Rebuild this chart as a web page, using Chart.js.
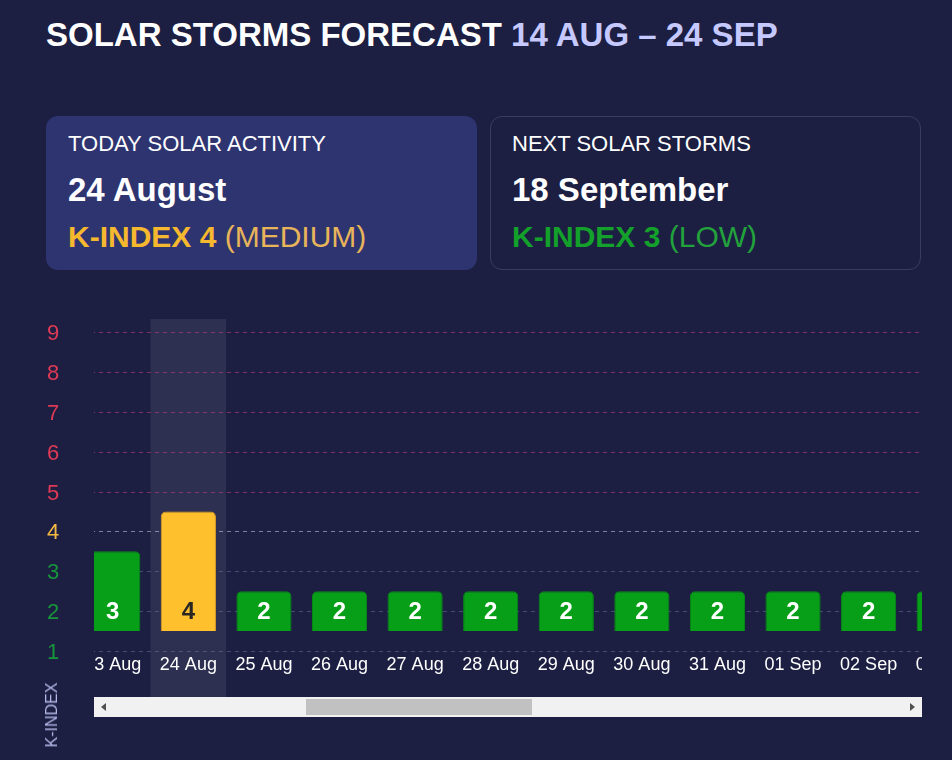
<!DOCTYPE html>
<html>
<head>
<meta charset="utf-8">
<script src="https://cdn.jsdelivr.net/npm/chart.js@4"></script>
<style>
  body { margin: 0; background: #1c1f42; font-family: 'Liberation Sans', Arial, sans-serif; width: 952px; height: 760px; overflow: hidden; position: relative; }
  .title { position: absolute; left: 46px; top: 18px; font-size: 33px; font-weight: bold; color: #fff; line-height: 1; white-space: nowrap; }
  .title span { color: #c5c9ff; }
  .card { position: absolute; top: 116px; width: 431px; height: 154px; border-radius: 12px; box-sizing: border-box; }
  .card.today { left: 46px; background: #2e3470; }
  .card.next { left: 490px; border: 1px solid rgba(255,255,255,0.13); }
  .card .lbl { position: absolute; left: 22px; top: 15px; font-size: 22px; color: #fff; white-space: nowrap; }
  .card .date { position: absolute; left: 22px; top: 55px; font-size: 33px; font-weight: bold; color: #fff; white-space: nowrap; }
  .card .k { position: absolute; left: 22px; top: 104px; font-size: 30px; white-space: nowrap; }
  .next .lbl, .next .date, .next .k { left: 21px; top: 14px; }
  .next .date { top: 54px; }
  .next .k { top: 103px; }
  .k b { font-weight: bold; }
  .k.med b { color: #f5b82e; }
  .k.med span { color: #e8b45a; }
  .k.low b { color: #13a02b; }
  .k.low span { color: #22a13c; }
  #yWrap { position: absolute; left: 0; top: 321px; width: 94px; height: 378px; }
  #plotWrap { position: absolute; left: 94px; top: 319px; width: 828px; height: 378px; overflow: hidden; }
  #plotCanvas { position: absolute; left: -19px; top: 0; }
  .scroll { position: absolute; left: 94px; top: 697px; width: 828px; height: 20px; background: #f1f1f1; }
  .thumb { position: absolute; left: 212px; top: 2px; width: 226px; height: 16px; background: #c1c1c1; }
  .arrL { position: absolute; left: 7px; top: 6px; width: 0; height: 0; border-top: 4px solid transparent; border-bottom: 4px solid transparent; border-right: 5px solid #505050; }
  .arrR { position: absolute; right: 7px; top: 6px; width: 0; height: 0; border-top: 4px solid transparent; border-bottom: 4px solid transparent; border-left: 5px solid #505050; }
  .ytitle { position: absolute; left: 52px; top: 715px; font-size: 16px; color: #b4b8e8; transform: translate(-50%, -50%) rotate(-90deg); white-space: nowrap; }
</style>
</head>
<body>
<div class="title">SOLAR STORMS FORECAST <span>14 AUG – 24 SEP</span></div>

<div class="card today">
  <div class="lbl">TODAY SOLAR ACTIVITY</div>
  <div class="date">24 August</div>
  <div class="k med"><b>K-INDEX 4</b> <span>(MEDIUM)</span></div>
</div>
<div class="card next">
  <div class="lbl">NEXT SOLAR STORMS</div>
  <div class="date">18 September</div>
  <div class="k low"><b>K-INDEX 3</b> <span>(LOW)</span></div>
</div>

<div id="yWrap"><canvas id="yCanvas" width="94" height="378"></canvas></div>
<div id="plotWrap"><canvas id="plotCanvas" width="907" height="378"></canvas></div>
<div class="scroll"><div class="arrL"></div><div class="thumb"></div><div class="arrR"></div></div>
<div class="ytitle">K-INDEX</div>

<script>
// days visible in the scrolled window
const days = ['23 Aug', '24 Aug', '25 Aug', '26 Aug', '27 Aug', '28 Aug', '29 Aug', '30 Aug', '31 Aug', '01 Sep', '02 Sep', '03 Sep'];
const kIndex = [3, 4, 2, 2, 2, 2, 2, 2, 2, 2, 2, 2];
const todayIndex = 1;
const yTicks = [1, 2, 3, 4, 5, 6, 7, 8, 9];

const levelColor = (v) => v >= 5 ? '#de3a55' : v == 4 ? '#f5b945' : '#17953a';
const barColor = (v) => v >= 5 ? '#de3a55' : v == 4 ? '#ffc02e' : '#079f17';
const barEdge = (v) => v >= 5 ? '#b82a42' : v == 4 ? '#e3a022' : '#068c14';
const gridColor = (v) => v >= 5 ? 'rgba(190,60,125,0.6)' : v == 4 ? 'rgba(225,225,235,0.5)' : 'rgba(125,135,190,0.42)';

Chart.defaults.font.family = "'Liberation Sans', Arial, sans-serif";
Chart.defaults.animation = false;

const fixHeight = (s) => { s.height = 46; };

const todayBand = {
    id: 'todayBand',
    beforeDraw(chart) {
        const x = chart.scales.x;
        const w = x.width / days.length;
        const cx = x.getPixelForValue(todayIndex);
        const c = chart.ctx;
        c.save();
        c.fillStyle = 'rgba(255,255,255,0.08)';
        c.fillRect(cx - w / 2, 0, w, chart.height);
        c.restore();
    }
};

// dashed level lines, coloured by k-index band
const levelLines = {
    id: 'levelLines',
    beforeDatasetsDraw(chart) {
        const y = chart.scales.y;
        const area = chart.chartArea;
        const c = chart.ctx;
        c.save();
        c.lineWidth = 1;
        c.setLineDash([4, 4]);
        yTicks.forEach(v => {
            const py = Math.round(y.getPixelForValue(v)) + 0.5;
            c.strokeStyle = gridColor(v);
            c.beginPath();
            c.moveTo(area.left, py);
            c.lineTo(area.right, py);
            c.stroke();
        });
        c.restore();
    }
};

const barLabels = {
    id: 'barLabels',
    afterDatasetsDraw(chart) {
        const c = chart.ctx;
        const meta = chart.getDatasetMeta(0);
        const y = chart.scales.y.getPixelForValue(2);
        c.save();
        c.font = "bold 24px 'Liberation Sans', Arial, sans-serif";
        c.textAlign = 'center';
        c.textBaseline = 'middle';
        meta.data.forEach((bar, i) => {
            c.fillStyle = kIndex[i] == 4 ? '#2a2622' : '#ffffff';
            c.fillText(String(kIndex[i]), bar.x, y + 1);
        });
        c.restore();
    }
};

// left, fixed y axis
new Chart(document.getElementById('yCanvas'), {
    type: 'bar',
    data: { labels: days, datasets: [{ data: [] }] },
    options: {
        responsive: false,
        layout: { padding: { left: 47, top: 13, right: 0, bottom: 0 } },
        plugins: { legend: { display: false }, tooltip: { enabled: false } },
        scales: {
            x: { ticks: { display: false }, grid: { display: false }, border: { display: false }, afterFit: fixHeight },
            y: {
                min: 1, max: 9,
                afterBuildTicks: (s) => { s.ticks = yTicks.map(v => ({ value: v })); },
                grid: { display: false, drawTicks: false },
                border: { display: false },
                ticks: {
                    padding: 0,
                    font: { size: 22, lineHeight: 1 },
                    color: (ctx) => levelColor(yTicks[ctx.index])
                }
            }
        }
    }
});

// scrolled plot
new Chart(document.getElementById('plotCanvas'), {
    type: 'bar',
    data: {
        labels: days,
        datasets: [{
            data: kIndex.map(v => [1.5, v + 0.5]),
            backgroundColor: kIndex.map(barColor),
            borderColor: kIndex.map(barEdge),
            borderWidth: 1,
            borderSkipped: 'start',
            borderRadius: { topLeft: 5, topRight: 5, bottomLeft: 0, bottomRight: 0 },
            categoryPercentage: 1,
            barPercentage: 0.73
        }]
    },
    options: {
        responsive: false,
        layout: { padding: { left: 0, top: 13, right: 0, bottom: 0 } },
        plugins: { legend: { display: false }, tooltip: { enabled: false } },
        scales: {
            x: {
                grid: { display: false, drawTicks: false },
                border: { display: false },
                ticks: { color: '#ffffff', font: { size: 18 }, maxRotation: 0, autoSkip: false, padding: 3 },
                afterFit: fixHeight
            },
            y: {
                min: 1, max: 9,
                afterBuildTicks: (s) => { s.ticks = yTicks.map(v => ({ value: v })); },
                ticks: { display: false },
                grid: { display: false, drawTicks: false },
                border: { display: false }
            }
        }
    },
    plugins: [todayBand, levelLines, barLabels]
});
</script>
</body>
</html>
